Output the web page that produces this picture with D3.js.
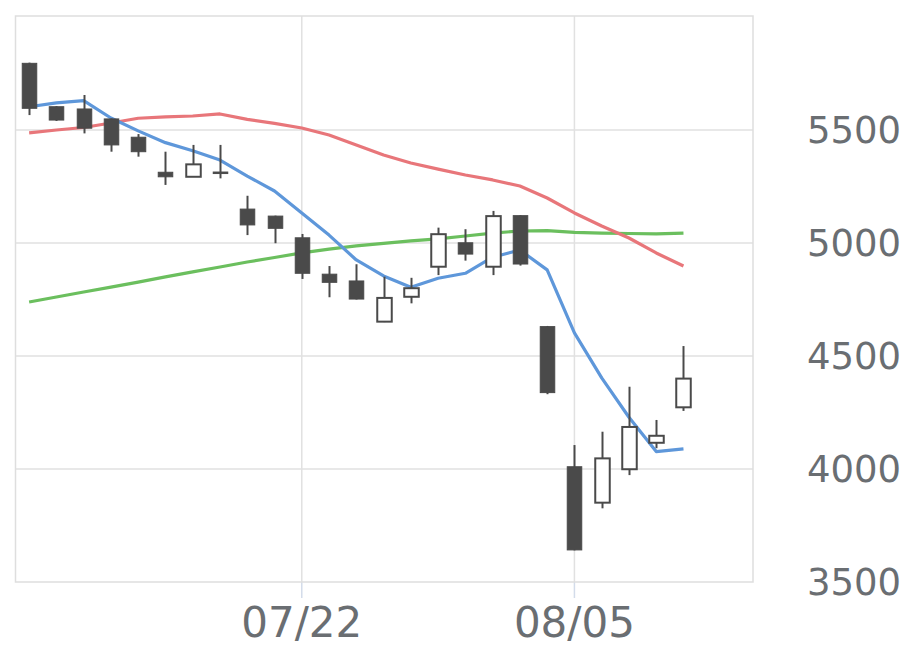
<!DOCTYPE html>
<html><head><meta charset="utf-8">
<script src="https://cdn.jsdelivr.net/npm/d3@7"></script>
<style>html,body{margin:0;padding:0;background:#fff;}svg{display:block;}</style>
</head><body>
<svg id="chart" width="920" height="669"></svg>
<script>
const dates = ["07/05","07/08","07/09","07/10","07/11","07/12","07/16","07/17","07/18","07/19",
  "07/22","07/23","07/24","07/25","07/26","07/29","07/30","07/31","08/01","08/02",
  "08/05","08/06","08/07","08/08","08/09"];
const openV  = [5795,5603,5593,5549,5468,5313,5293,5314,5150,5119,5023,4862,4832,4652,4762,4895,5001,4895,5121,4630,4010,3851,3999,4116,4273];
const highV  = [5798,5606,5655,5551,5482,5404,5434,5434,5209,5121,5040,4898,4906,4851,4846,5068,5061,5142,5123,4633,4106,4165,4364,4217,4544];
const lowV   = [5566,5540,5485,5404,5382,5257,5293,5286,5035,4999,4841,4760,4750,4650,4733,4858,4922,4858,4900,4331,3640,3826,3973,4092,4257];
const closeV = [5596,5544,5508,5434,5404,5293,5348,5308,5080,5065,4866,4826,4752,4757,4800,5039,4951,5119,4907,4338,3642,4047,4186,4147,4400];
const ma5  = [5603,5620,5630,5553,5496,5444,5408,5367,5296,5230,5133,5035,4925,4854,4804,4844,4866,4937,4969,4881,4602,4403,4229,4077,4089];
const ma25 = [5487,5500,5511,5531,5552,5558,5562,5571,5547,5529,5509,5478,5434,5389,5354,5327,5301,5279,5252,5199,5133,5075,5022,4956,4898];
const ma75 = [4739,4761,4783,4805,4827,4850,4872,4894,4916,4936,4956,4973,4987,4998,5009,5018,5031,5044,5053,5055,5047,5044,5042,5040,5044];
const yTicks = [3500,4000,4500,5000,5500];
const xTickLabels = ["07/22","08/05"];

const svg = d3.select("#chart");
const L = 15.5, R = 753, T = 16, B = 582;
const x = d3.scaleLinear().domain([-0.5, 26.55]).range([L, R]);
const y = d3.scaleLinear().domain([3500, 6000]).range([B, 17]);
const textColor = "#6a6e72";
const gridColor = "#e1e1e1";
const dark = "#4a4a4a";

// horizontal grid
svg.append("g").selectAll("line").data(yTicks.filter(v => v > 3500)).join("line")
  .attr("x1", L).attr("x2", R).attr("y1", d => y(d)).attr("y2", d => y(d))
  .attr("stroke", gridColor).attr("stroke-width", 1.5);
// vertical grid + ticks
const xIdx = xTickLabels.map(l => dates.indexOf(l));
svg.append("g").selectAll("line").data(xIdx).join("line")
  .attr("x1", d => x(d)).attr("x2", d => x(d)).attr("y1", T).attr("y2", B)
  .attr("stroke", gridColor).attr("stroke-width", 1.5);
svg.append("g").selectAll("line").data(xIdx).join("line")
  .attr("x1", d => x(d)).attr("x2", d => x(d)).attr("y1", B).attr("y2", B + 16)
  .attr("stroke", "#d3dcea").attr("stroke-width", 1.5);
// border
svg.append("rect").attr("x", L).attr("y", T).attr("width", R - L).attr("height", B - T)
  .attr("fill", "none").attr("stroke", "#dedede").attr("stroke-width", 1.5);

// moving averages
const line = d3.line().x((d, i) => x(i)).y(d => y(d));
[[ma75, "#6bbf5e"], [ma25, "#e8767a"], [ma5, "#5e97da"]].forEach(([s, c]) => {
  svg.append("path").datum(s).attr("d", line).attr("fill", "none")
    .attr("stroke", c).attr("stroke-width", 3.2).attr("stroke-linejoin", "round");
});

// candles
const bw = 14.5;
const g = svg.append("g");
dates.forEach((d, i) => {
  const up = closeV[i] > openV[i];
  const cx = Math.round(x(i)) + 0.5;
  g.append("line").attr("x1", cx).attr("x2", cx)
    .attr("y1", y(highV[i])).attr("y2", y(lowV[i]))
    .attr("stroke", dark).attr("stroke-width", 2);
  const top = y(Math.max(openV[i], closeV[i]));
  const bot = y(Math.min(openV[i], closeV[i]));
  g.append("rect").attr("x", cx - bw / 2).attr("y", top)
    .attr("width", bw).attr("height", Math.max(bot - top, 1.5))
    .attr("fill", up ? "#ffffff" : dark)
    .attr("stroke", dark).attr("stroke-width", up ? 2 : 1);
});

// y labels
svg.append("g").selectAll("text").data(yTicks).join("text")
  .attr("x", 807).attr("y", d => y(d)).attr("dy", "0.36em")
  .attr("font-family", "DejaVu Sans").attr("font-size", 37)
  .attr("fill", textColor).text(d => d);
// x labels
svg.append("g").selectAll("text").data(xTickLabels).join("text")
  .attr("x", d => x(dates.indexOf(d))).attr("y", 637)
  .attr("text-anchor", "middle")
  .attr("font-family", "DejaVu Sans").attr("font-size", 42)
  .attr("fill", textColor).text(d => d);
</script>
</body></html>
